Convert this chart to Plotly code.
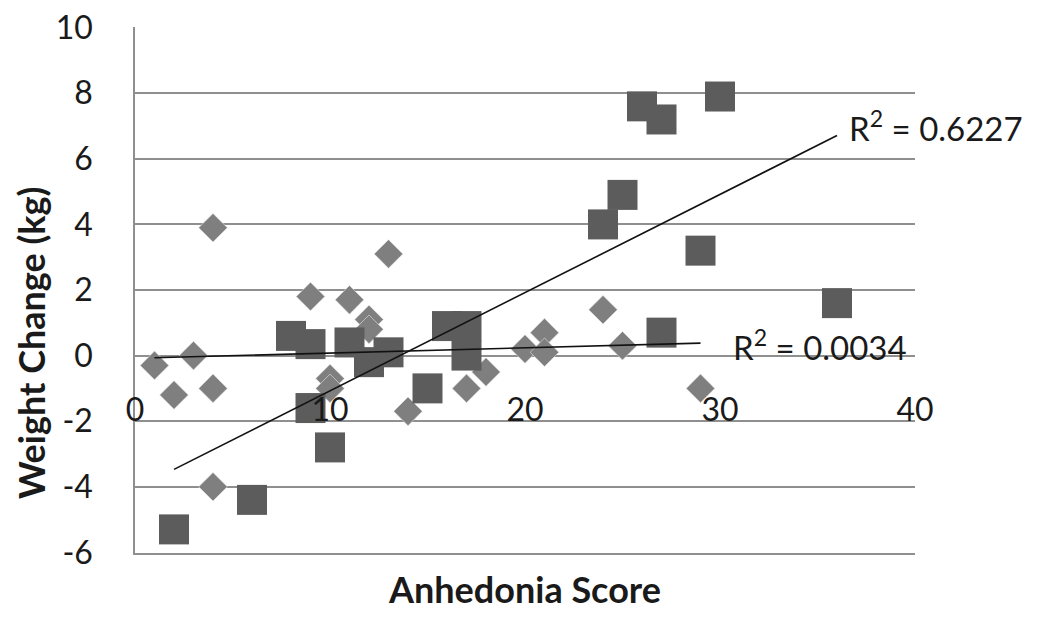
import numpy as np
import plotly.graph_objects as go

# Series A (diamonds)
dia_x = [1, 2, 3, 4, 4, 4, 9, 10, 10, 11, 12, 12, 13, 14, 17, 18, 20, 21, 21, 24, 25, 29]
dia_y = [-0.3, -1.2, 0.0, 3.9, -1.0, -4.0, 1.8, -0.7, -1.0, 1.7, 1.1, 0.8, 3.1, -1.7, -1.0, -0.5, 0.2, 0.7, 0.1, 1.4, 0.3, -1.0]

# Series B (squares)
sq_x = [2, 6, 8, 9, 9, 10, 11, 12, 13, 15, 16, 17, 17, 24, 25, 26, 27, 27, 29, 30, 36]
sq_y = [-5.3, -4.4, 0.6, 0.35, -1.6, -2.8, 0.4, -0.2, 0.1, -1.0, 0.9, 0.9, 0.0, 4.0, 4.9, 7.6, 7.2, 0.7, 3.2, 7.9, 1.6]

x_ticks = [0, 10, 20, 30, 40]
y_ticks = [-6, -4, -2, 0, 2, 4, 6, 8, 10]
r2_labels = ["R<sup>2</sup> = 0.6227", "R<sup>2</sup> = 0.0034"]

FONT = "Lato, Carlito, 'Open Sans', sans-serif"
TXT = "#1a1a1a"
GRID = "#8f8f8f"

def trend(xs, ys):
    k, b = np.polyfit(xs, ys, 1)
    xx = np.array([min(xs), max(xs)], dtype=float)
    return xx, k * xx + b

fig = go.Figure()
fig.add_trace(go.Scatter(x=dia_x, y=dia_y, mode="markers",
                         marker=dict(symbol="diamond", size=22, color="#7f7f7f",
                                     line=dict(width=0.6, color="#e6e6e6")),
                         showlegend=False))
fig.add_trace(go.Scatter(x=sq_x, y=sq_y, mode="markers",
                         marker=dict(symbol="square", size=30, color="#5c5c5c",
                                     line=dict(width=0)),
                         showlegend=False))

tx, ty = trend(sq_x, sq_y)
fig.add_trace(go.Scatter(x=tx, y=ty, mode="lines", line=dict(color="#111", width=1.6),
                         showlegend=False))
tx2, ty2 = trend(dia_x, dia_y)
fig.add_trace(go.Scatter(x=tx2, y=ty2, mode="lines", line=dict(color="#111", width=1.6),
                         showlegend=False))

# tick labels axis crossing at y = 0
fig.add_trace(go.Scatter(x=[0, 40], y=[0, 0], xaxis="x2", mode="markers",
                         marker=dict(opacity=0), hoverinfo="skip", showlegend=False))

fig.add_annotation(x=tx[-1], y=ty[-1], xref="x", yref="y", text=r2_labels[0],
                   showarrow=False, xanchor="left", yanchor="middle", xshift=10, yshift=10,
                   font=dict(family=FONT, size=33, color=TXT))
fig.add_annotation(x=tx2[-1], y=ty2[-1], xref="x", yref="y", text=r2_labels[1],
                   showarrow=False, xanchor="left", yanchor="middle", xshift=30, yshift=-2,
                   font=dict(family=FONT, size=33, color=TXT))
fig.add_annotation(x=-0.134, y=0.40, xref="paper", yref="paper",
                   text="<b>Weight Change (kg)</b>", textangle=-90, showarrow=False,
                   xanchor="center", yanchor="middle",
                   font=dict(family=FONT, size=36, color=TXT))

fig.update_layout(
    width=1042, height=611,
    margin=dict(l=127, r=135, t=19, b=66, autoexpand=False),
    paper_bgcolor="white", plot_bgcolor="white",
    font=dict(family=FONT, color=TXT),
    xaxis=dict(range=[0, 40], showgrid=False, zeroline=False, showline=True,
               linecolor=GRID, linewidth=1.5, automargin=False,
               showticklabels=False, ticks="",
               title=dict(text="<b>Anhedonia Score</b>", font=dict(size=36, family=FONT, color=TXT),
                          standoff=24)),
    xaxis2=dict(range=[0, 40], overlaying="x", anchor="free", position=0.375, side="bottom",
                tickvals=x_ticks, ticktext=[str(v) for v in x_ticks], showgrid=False,
                zeroline=False, showline=False, ticks="", ticklabelstandoff=32,
                ticklabeloverflow="allow", automargin=False,
                tickfont=dict(size=32, family=FONT, color=TXT)),
    yaxis=dict(range=[-6.02, 10.02], tickvals=y_ticks, ticktext=[str(v) for v in y_ticks],
               showgrid=True, gridcolor=GRID, gridwidth=1.5, zeroline=False,
               showline=True, linecolor=GRID, linewidth=1.5, ticks="",
               ticklabelstandoff=34, ticklabeloverflow="allow", automargin=False,
               tickfont=dict(size=32, family=FONT, color=TXT)),
)

fig.write_html("out.html")
